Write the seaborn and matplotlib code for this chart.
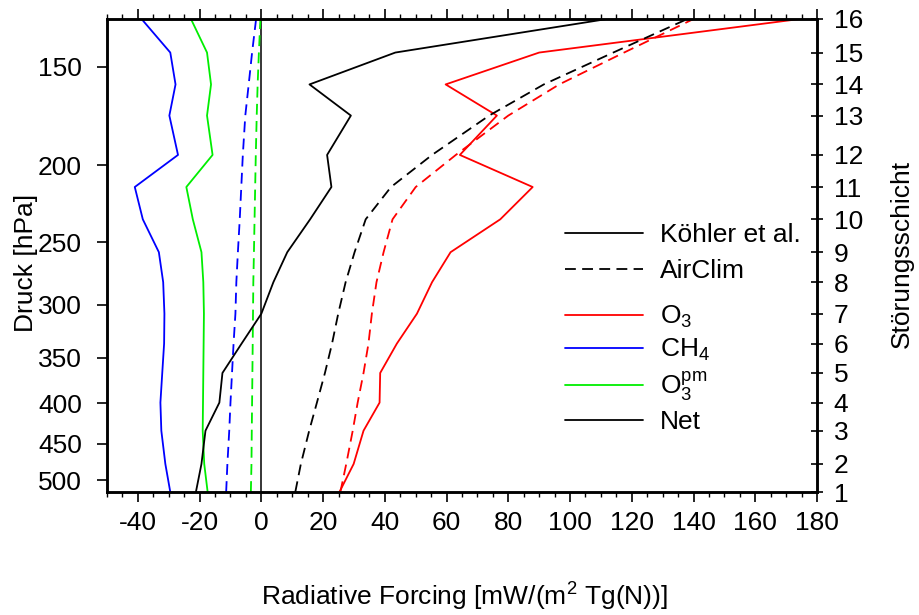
import matplotlib
matplotlib.use("Agg")
import matplotlib.pyplot as plt
from matplotlib.lines import Line2D
from matplotlib.ticker import FixedLocator, NullLocator, MultipleLocator
import pandas as pd
import seaborn as sns

# Perturbation layers and their mid-layer pressures [hPa]
layers = list(range(1, 17))
pressure_hpa = [517.6, 477, 433, 399, 366, 336, 308, 281, 257.5, 234,
                213, 194, 173, 158, 144, 130.6]

# Köhler et al. (solid lines) [mW/(m2 Tg(N))]
koehler_o3 = [25.3, 29.9, 33.1, 38.3, 38.5, 43.9, 50.4, 55.3, 61.3, 77.4,
              87.9, 64.3, 76.3, 59.7, 90.0, 174.4]
koehler_ch4 = [-29.5, -31.1, -32.4, -32.7, -32.1, -31.5, -31.4, -31.8, -33.2, -38.4,
               -41.0, -27.0, -29.8, -27.8, -29.5, -38.8]
koehler_o3pm = [-17.4, -18.5, -19.0, -18.9, -18.8, -18.7, -18.6, -18.8, -19.4, -22.2,
                -24.3, -15.8, -17.6, -16.3, -17.6, -22.8]
koehler_net = [-21.2, -19.4, -18.1, -13.6, -12.6, -6.4, 0.0, 3.9, 8.4, 15.8,
               22.7, 21.3, 29.0, 15.6, 43.4, 112.0]

# AirClim (dashed lines)
airclim_o3 = [25.6, 27.5, 29.6, 31.2, 33.1, 34.7, 35.8, 37.3, 39.6, 42.5,
              50.0, 63.0, 80.0, 96.5, 117.5, 140.0]
airclim_ch4 = [-11.4, -11.0, -10.4, -10.0, -9.5, -9.0, -8.4, -8.1, -7.6, -7.0,
               -6.5, -6.0, -5.2, -4.1, -3.0, -1.7]
airclim_o3pm = [-3.4, -3.2, -3.1, -3.0, -2.9, -2.8, -2.7, -2.6, -2.4, -2.2,
                -2.0, -1.8, -1.5, -1.2, -0.8, -0.3]
airclim_net = [11.0, 12.8, 15.5, 18.0, 20.6, 22.9, 24.9, 27.3, 30.2, 33.8,
               42.0, 55.3, 73.8, 91.5, 114.0, 138.0]

pressure_ticks = [150, 200, 250, 300, 350, 400, 450, 500]
x_ticks = list(range(-40, 181, 20))

sns.set_style("ticks")
plt.rcParams["font.family"] = ["Liberation Sans", "DejaVu Sans"]
plt.rcParams["mathtext.fontset"] = "custom"
plt.rcParams["mathtext.rm"] = "Liberation Sans"
plt.rcParams["mathtext.it"] = "Liberation Sans:italic"
plt.rcParams["mathtext.default"] = "regular"
plt.rcParams["axes.unicode_minus"] = False
for key in ["text.color", "axes.labelcolor", "xtick.color", "ytick.color",
            "axes.edgecolor"]:
    plt.rcParams[key] = "black"

FS = 19
fig = plt.figure(figsize=(9.19, 6.15), dpi=100)
ax = fig.add_axes([107 / 919, 1 - 492 / 615, (817 - 107) / 919, (492 - 19) / 615])

colors = {"O3": "#ff0000", "CH4": "#0000ff", "O3pm": "#00ee00", "Net": "#000000"}
series = [
    ("O3", koehler_o3, airclim_o3),
    ("CH4", koehler_ch4, airclim_ch4),
    ("O3pm", koehler_o3pm, airclim_o3pm),
    ("Net", koehler_net, airclim_net),
]

lw = 1.3
dash = (6, 3.5)
for name, solid, dashed in series:
    df = pd.DataFrame({"rf": solid, "p": pressure_hpa})
    sns.lineplot(data=df, x="rf", y="p", sort=False, estimator=None,
                 color=colors[name], lw=lw, ax=ax)
    dfd = pd.DataFrame({"rf": dashed, "p": pressure_hpa})
    l = sns.lineplot(data=dfd, x="rf", y="p", sort=False, estimator=None,
                     color=colors[name], lw=lw, ax=ax)
    l.lines[-1].set_dashes(dash)

ax.axvline(0, color="black", lw=1.1, zorder=1)

ax.set_yscale("log")
ax.set_ylim(pressure_hpa[0], pressure_hpa[-1])
ax.set_xlim(-50, 180)
ax.yaxis.set_major_locator(FixedLocator(pressure_ticks))
ax.yaxis.set_minor_locator(NullLocator())
ax.set_yticklabels([str(t) for t in pressure_ticks])
ax.xaxis.set_major_locator(FixedLocator(x_ticks))
ax.xaxis.set_minor_locator(MultipleLocator(5))

for s in ax.spines.values():
    s.set_linewidth(1.8)
    s.set_visible(True)

ax.tick_params(axis="x", which="major", direction="out", length=7, width=1.2,
               top=True, bottom=True, labeltop=False, labelsize=FS, pad=7)
ax.tick_params(axis="x", which="minor", direction="out", length=3.5, width=1.0,
               top=True, bottom=True)
ax.tick_params(axis="y", which="major", direction="out", length=7, width=1.2,
               labelsize=FS, pad=11)

ax.set_xlabel("Radiative Forcing [mW/(m$^2$ Tg(N))]", fontsize=FS)
ax.xaxis.set_label_coords(0.503, -0.188)
ax.set_ylabel("Druck [hPa]", fontsize=FS)
ax.yaxis.set_label_coords(-0.097, 0.484)

# Right axis: perturbation layer numbers at their pressures
ax2 = ax.twinx()
ax2.set_yscale("log")
ax2.set_ylim(ax.get_ylim())
ax2.yaxis.set_major_locator(FixedLocator(pressure_hpa))
ax2.yaxis.set_minor_locator(NullLocator())
ax2.set_yticklabels([str(n) for n in layers])
ax2.tick_params(axis="y", which="major", direction="inout", length=8, width=1.2,
                labelsize=FS, pad=8)
for s in ax2.spines.values():
    s.set_linewidth(1.8)
ax2.set_ylabel("Störungsschicht", fontsize=FS)
ax2.yaxis.set_label_coords(1.103, 0.503)
ax2.grid(False)

# Legends
h_src = [Line2D([], [], color="black", lw=lw),
         Line2D([], [], color="black", lw=lw, dashes=dash)]
leg1 = ax.legend(h_src, ["Köhler et al.", "AirClim"], loc="upper left",
                 bbox_to_anchor=(565 / 919, 1 - 223 / 615),
                 bbox_transform=fig.transFigure, frameon=False, fontsize=FS,
                 handlelength=2.95, handletextpad=0.64, labelspacing=0.45,
                 borderpad=0, borderaxespad=0)
ax.add_artist(leg1)
h_spec = [Line2D([], [], color=colors[k], lw=lw) for k in ["O3", "CH4", "O3pm", "Net"]]
ax.legend(h_spec, ["O$_3$", "CH$_4$", "O$_3^{pm}$", "Net"], loc="upper left",
          bbox_to_anchor=(565 / 919, 1 - 304 / 615),
          bbox_transform=fig.transFigure, frameon=False, fontsize=FS,
          handlelength=2.95, handletextpad=0.64, labelspacing=0.25,
          borderpad=0, borderaxespad=0)

fig.savefig("out.png", dpi=100)
